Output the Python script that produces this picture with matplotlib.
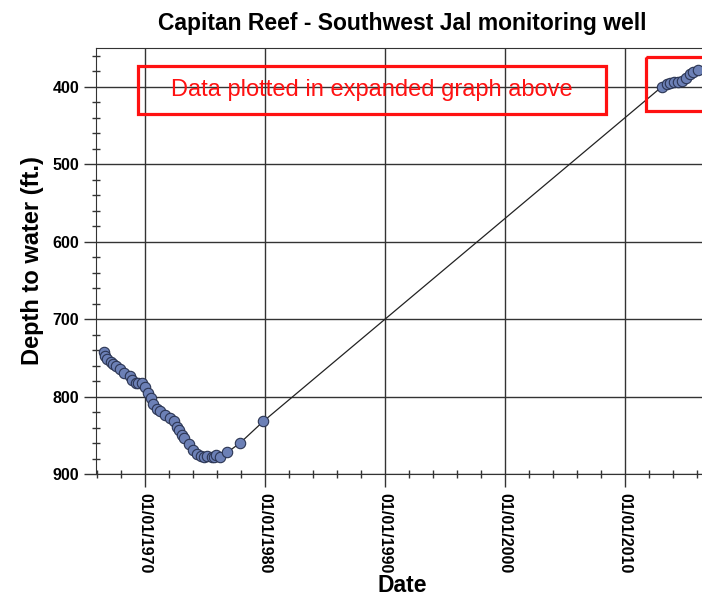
import matplotlib
matplotlib.use('Agg')
import matplotlib.pyplot as plt
from matplotlib.patches import Rectangle
from matplotlib.ticker import MultipleLocator, FuncFormatter

plt.rcParams['font.family'] = ['Liberation Sans', 'DejaVu Sans']

# decimal year of each measurement, depth to water in feet
years = [1966.58, 1966.67, 1966.86, 1967.14, 1967.36, 1967.58, 1967.92, 1968.25,
         1968.75, 1968.94, 1969.22, 1969.44, 1969.72, 1970.00, 1970.28, 1970.47,
         1970.69, 1970.97, 1971.25, 1971.67, 1972.08, 1972.42, 1972.64, 1972.86,
         1973.06, 1973.28, 1973.69, 1974.03, 1974.36, 1974.67, 1974.94, 1975.19,
         1975.56, 1975.75, 1975.92, 1976.25, 1976.86, 1977.92, 1979.86,
         2013.06, 2013.47, 2013.75, 2014.03, 2014.36, 2014.72, 2015.08, 2015.36,
         2015.69, 2016.03]
depth = [743, 748, 752, 756, 758, 761, 764, 769,
         773, 779, 782, 782, 782, 788, 796, 802,
         809, 816, 819, 824, 828, 832, 839, 843,
         850, 854, 861, 869, 874, 877, 878, 877,
         878, 878, 875, 878, 872, 860, 832,
         400, 396, 395, 394, 394, 392, 389, 384,
         381, 379]

decades = [1970, 1980, 1990, 2000, 2010]
note = 'Data plotted in expanded graph above'

fig = plt.figure(figsize=(7.02, 5.98), dpi=100)
ax = fig.add_axes([96 / 702, 1 - 474 / 598, 612 / 702, 426 / 598])

ax.plot(years, depth, color='#222222', linewidth=0.9, zorder=2,
        marker='o', markersize=7.5, markerfacecolor='#6c80b6',
        markeredgecolor='#2b3553', markeredgewidth=0.8)

ax.set_xlim(1965.92, 2016.9)
ax.set_ylim(900, 350)

ax.set_xticks(decades)
ax.xaxis.set_major_formatter(FuncFormatter(lambda v, p: '01/01/%d' % int(round(v))))
ax.xaxis.set_minor_locator(MultipleLocator(2))
ax.yaxis.set_major_locator(MultipleLocator(100))
ax.yaxis.set_minor_locator(MultipleLocator(20))

ax.tick_params(which='major', direction='out', length=9, width=1, color='#333333')
ax.tick_params(which='minor', direction='inout', length=6, width=1, color='#333333')
ax.tick_params(axis='y', labelsize=11.5, pad=3)
ax.tick_params(axis='x', labelsize=11.5, labelrotation=270, pad=5)
for lab in ax.get_xticklabels() + ax.get_yticklabels():
    lab.set_fontweight('bold')

ax.grid(True, which='major', color='#333333', linewidth=1)
for s in ax.spines.values():
    s.set_color('#333333')

ax.set_title('Capitan Reef - Southwest Jal monitoring well', fontsize=16.5,
             fontweight='bold', pad=13)
ax.set_ylabel('Depth to water (ft.)', fontsize=17, fontweight='bold', labelpad=6)
ax.set_xlabel('Date', fontsize=16.5, fontweight='bold', labelpad=0)

# red call-out boxes
ax.add_patch(Rectangle((1969.42, 372.9), 39.0, 62.0, fill=False,
                       edgecolor='#ff1111', linewidth=2.3, zorder=4))
ax.text(1988.9, 404, note, color='#ff1111', fontsize=17, ha='center',
        va='center', zorder=4)
ax.add_patch(Rectangle((2011.75, 361), 6.0, 70, fill=False,
                       edgecolor='#ff1111', linewidth=2.3, zorder=4, clip_on=False))

fig.savefig('out.png', dpi=100)
